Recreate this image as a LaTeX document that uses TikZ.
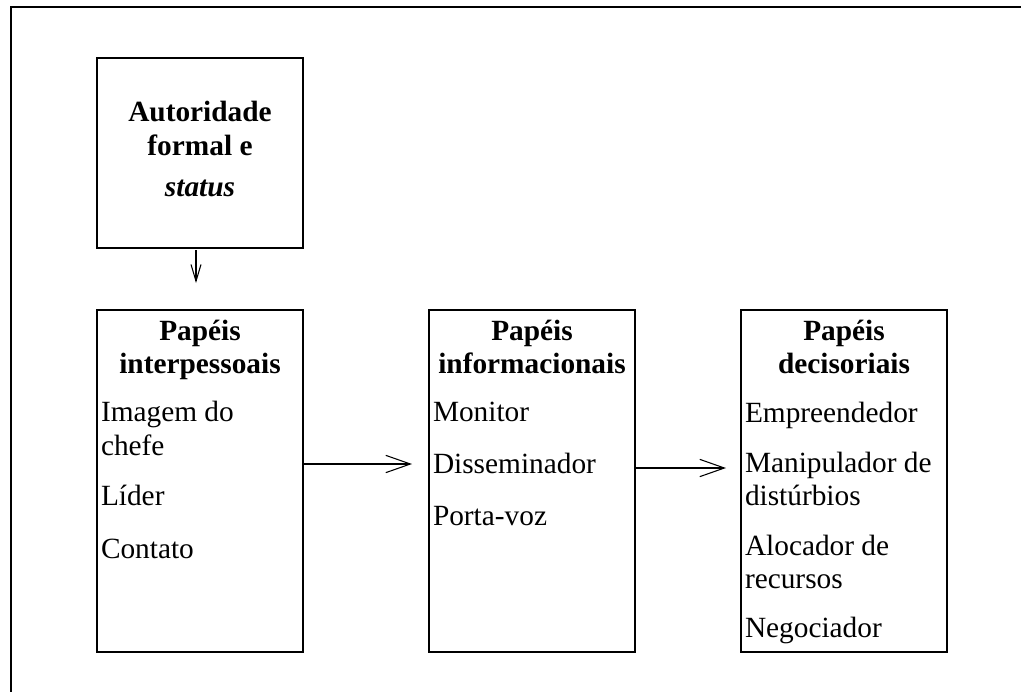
\documentclass[tikz,border=0pt]{standalone}
\usepackage{fontspec}
\setmainfont{Liberation Serif}
\usetikzlibrary{arrows.meta}
\begin{document}
\begin{tikzpicture}[x=0.75pt,y=-0.75pt,
  every node/.style={inner sep=0pt,outer sep=0pt,font=\fontsize{22pt}{24.75pt}\selectfont},
  rolebox/.style={draw,line width=1pt,minimum width=154.5pt,anchor=north west},
  hdr/.style={anchor=base,font=\fontsize{22pt}{24.75pt}\selectfont\bfseries},
  item/.style={anchor=base west},
  bigarrow/.style={line width=0.8pt,-{Straight Barb[length=18.5pt,width=13pt,line width=0.8pt]}},
  smallarrow/.style={line width=0.8pt,-{Straight Barb[length=12.5pt,width=7.5pt,line width=0.8pt]}}]
\useasboundingbox (0,0) rectangle (1021,692);
% outer frame (only top and left edges visible)
\draw[line width=1.6pt] (11,692) -- (11,7) -- (1021,7);
% boxes
\node[rolebox,minimum height=142.5pt] (auth) at (97,58) {};
\node[rolebox,minimum height=256.5pt] (ip) at (97,310) {};
\node[rolebox,minimum height=256.5pt] (inf) at (429,310) {};
\node[rolebox,minimum height=256.5pt] (dec) at (741,310) {};
% authority text
\node[hdr] (t1) at (200,122) {Autoridade};
\node[hdr] (t2) at (200,155) {formal e};
\node[hdr,font=\fontsize{22pt}{24.75pt}\selectfont\bfseries\itshape] (t3) at (200,196) {status};
% interpersonal
\node[hdr] (h11) at (200,340) {Papéis};
\node[hdr] (h12) at (200,373) {interpessoais};
\node[item] (i11) at (101,421) {Imagem do};
\node[item] (i12) at (101,455) {chefe};
\node[item] (i13) at (101,505) {Líder};
\node[item] (i14) at (101,558) {Contato};
% informational
\node[hdr] (h21) at (532,340) {Papéis};
\node[hdr] (h22) at (532,373) {informacionais};
\node[item] (i21) at (433,421) {Monitor};
\node[item] (i22) at (433,473) {Disseminador};
\node[item] (i23) at (433,525) {Porta-voz};
% decisional
\node[hdr] (h31) at (844,340) {Papéis};
\node[hdr] (h32) at (844,373) {decisoriais};
\node[item] (i31) at (745,422) {Empreendedor};
\node[item] (i32) at (745,472) {Manipulador de};
\node[item] (i33) at (745,505) {distúrbios};
\node[item] (i34) at (745,555) {Alocador de};
\node[item] (i35) at (745,588) {recursos};
\node[item] (i36) at (745,637) {Negociador};
% arrows
\coordinate (e0) at (196,283);
\coordinate (e1) at (412,464);
\coordinate (e2) at (726,468);
\draw[smallarrow] (auth.south -| e0) ++(0,2) -- (e0);
\draw[bigarrow] (ip.east |- e1) -- (e1);
\draw[bigarrow] (inf.east |- e2) -- (e2);
\end{tikzpicture}
\end{document}
